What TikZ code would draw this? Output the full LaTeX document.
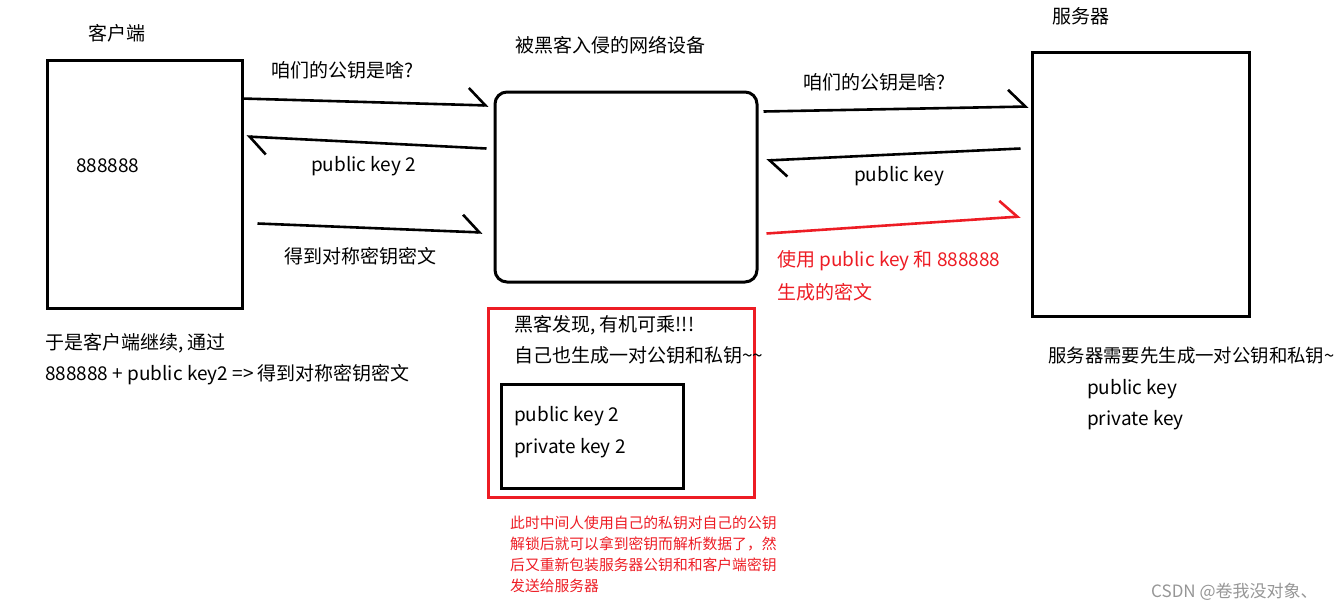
\documentclass[tikz,border=0pt]{standalone}
\usepackage{fontspec}
\setmainfont{Noto Sans CJK SC}
\usetikzlibrary{arrows.meta}

\definecolor{rojo}{RGB}{237,28,36}
\definecolor{marca}{RGB}{150,150,150}

\begin{document}
\begin{tikzpicture}[
  x=1pt, y=-1pt,
  font=\fontsize{19}{23}\selectfont,
  caja/.style={rectangle, draw, line width=3pt, inner sep=0pt},
  txt/.style={inner sep=0pt, anchor=west},
  arr/.style={line width=2.6pt,
              -{Straight Barb[left, length=17pt, width=34pt, line width=2.6pt]}},
  nota/.style={inner sep=0pt, anchor=north west, align=left, text=rojo,
               font=\fontsize{14.8}{21}\selectfont}
]
\useasboundingbox (0,0) rectangle (1343,611);

% --- Cliente ---
\node[caja, minimum width=195pt, minimum height=248pt] (cliente) at (144.5,184) {};
\node[txt] (cliente-t) at (88,33) {客户端};
\node[txt] (clave) at (76,166) {888888};
\node[txt] (cliente-n1) at (45,343) {于是客户端继续, 通过};
\node[txt] (cliente-n2) at (45,375) {888888 + public key2 => 得到对称密钥密文};

% --- Dispositivo del hacker ---
\node[caja, rounded corners=12pt, minimum width=262pt, minimum height=190pt]
      (hack) at (626,187) {};
\node[txt] (hack-t) at (515,45) {被黑客入侵的网络设备};
\node[rectangle, draw=rojo, line width=3pt, minimum width=266pt,
      minimum height=189pt] (marco) at (621,402.5) {};
\node[txt] (hack-n1) at (514,325) {黑客发现, 有机可乘!!!};
\node[txt] (hack-n2) at (514,355) {自己也生成一对公钥和私钥\textasciitilde\textasciitilde};
\node[caja, minimum width=182pt, minimum height=104pt] (par) at (592,436) {};
\node[txt] (par-1) at (514,416) {public key 2};
\node[txt] (par-2) at (514,448) {private key 2};
\node[nota] (explica) at (510,516)
      {此时中间人使用自己的私钥对自己的公钥\\
       解锁后就可以拿到密钥而解析数据了，然\\
       后又重新包装服务器公钥和和客户端密钥\\
       发送给服务器};

% --- Servidor ---
\node[caja, minimum width=217pt, minimum height=264pt] (servidor) at (1140.5,184) {};
\node[txt] (servidor-t) at (1052,16) {服务器};
\node[txt, font=\fontsize{18.4}{22}\selectfont] (servidor-n1) at (1048,356)
      {服务器需要先生成一对公钥和私钥\textasciitilde};
\node[txt] (servidor-n2) at (1087,389) {public key};
\node[txt] (servidor-n3) at (1087,420) {private key};

% --- Mensajes ---
\draw[arr] ([shift={(-2,40)}]cliente.north east) -- ([shift={(-5,15)}]hack.north west);
\node[txt] (m1) at (271,70) {咱们的公钥是啥?};
\draw[arr] ([shift={(-7,58)}]hack.north west) -- ([shift={(3,78)}]cliente.north east);
\node[txt] (m2) at (311,166) {public key 2};
\draw[arr] ([shift={(14,165)}]cliente.north east) -- ([shift={(-11,142)}]hack.north west);
\node[txt] (m3) at (284,256) {得到对称密钥密文};

\draw[arr] ([shift={(5,21)}]hack.north east) -- ([shift={(-2,56)}]servidor.north west);
\node[txt] (m4) at (803,82) {咱们的公钥是啥?};
\draw[arr] ([shift={(-10,98)}]servidor.north west) -- ([shift={(8,70)}]hack.north east);
\node[txt] (m5) at (854,176) {public key};
\draw[arr, rojo] ([shift={(8,143)}]hack.north east) -- ([shift={(-10,166)}]servidor.north west);
\node[txt, text=rojo] (m6a) at (777,261) {使用 public key 和 888888};
\node[txt, text=rojo] (m6b) at (777,292) {生成的密文};

\node[txt, text=marca, font=\fontsize{17}{20}\selectfont] (firma) at (1151,592)
      {CSDN @卷我没对象、};

\end{tikzpicture}
\end{document}
